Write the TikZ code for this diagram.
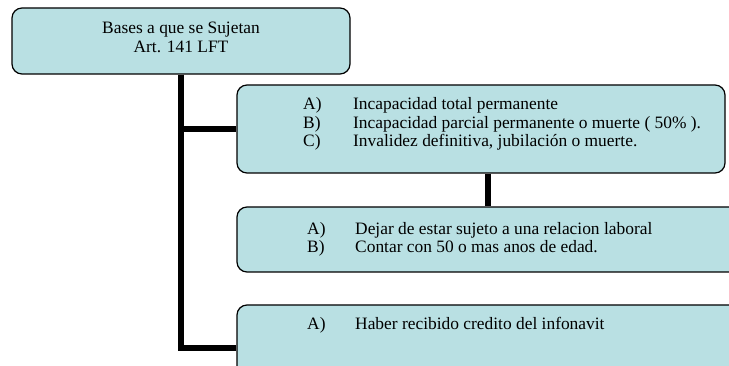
\documentclass[tikz,border=0pt]{standalone}
\usepackage{fontspec}
\setmainfont{Liberation Serif}
\usetikzlibrary{backgrounds}
\definecolor{celeste}{RGB}{185,224,227}
\tikzset{
  caja/.style={draw=black, fill=celeste, rounded corners=10pt, line width=1.2pt, inner sep=0pt},
  renglon/.style={anchor=base west, inner sep=0pt, font=\fontsize{17.4}{19}\selectfont},
  centrado/.style={anchor=base, inner sep=0pt, font=\fontsize{17.4}{19}\selectfont},
  tronco/.style={line width=5.5pt}
}

\begin{document}
\begin{tikzpicture}[x=1pt, y=-1pt]
			%%%%% START %%%%%
			\useasboundingbox (0,0) rectangle (729,366);
			\clip (0,0) rectangle (729,366);
			
			% cajas
			\node[caja, minimum width=338pt, minimum height=66pt] (raiz) at (181,41) {};
			\node[caja, minimum width=488pt, minimum height=88pt] (incap) at (481,129) {};
			\node[caja, minimum width=508pt, minimum height=65pt] (sujeto) at (491,239.5) {};
			\node[caja, minimum width=508pt, minimum height=86pt] (infonavit) at (491,348) {};
			
			% titulo
			\node[centrado] (bases) at (181,34) {Bases a que se Sujetan};
			\node[centrado] (art) at (181,53) {Art. 141 LFT};
			
			% incapacidad
			\node[renglon] (incAl) at (303,110) {A)};
			\node[renglon] (incA) at (353,110) {Incapacidad total permanente};
			\node[renglon] (incBl) at (303,128.5) {B)};
			\node[renglon] (incB) at (353,128.5) {Incapacidad parcial permanente o muerte ( 50\% ).};
			\node[renglon] (incCl) at (303,147) {C)};
			\node[renglon] (incC) at (353,147) {Invalidez definitiva, jubilación o muerte.};
			
			% relacion laboral
			\node[renglon] (sujAl) at (307,234.5) {A)};
			\node[renglon] (sujA) at (355,234.5) {Dejar de estar sujeto a una relacion laboral};
			\node[renglon] (sujBl) at (307,253) {B)};
			\node[renglon] (sujB) at (355,253) {Contar con 50 o mas anos de edad.};
			
			% credito
			\node[renglon] (infAl) at (307,330) {A)};
			\node[renglon] (infA) at (355,330) {Haber recibido credito del infonavit};
			
			% conectores
			\begin{scope}[on background layer]
				\draw[tronco] (raiz.south) |- (incap.west);
				\draw[tronco] (raiz.south) |- (infonavit.west);
				\draw[tronco] ([xshift=7pt]incap.south) -- ([xshift=7pt]incap.south |- sujeto.north);
			\end{scope}
			
			%%%%% END %%%%%
\end{tikzpicture}
\end{document}
